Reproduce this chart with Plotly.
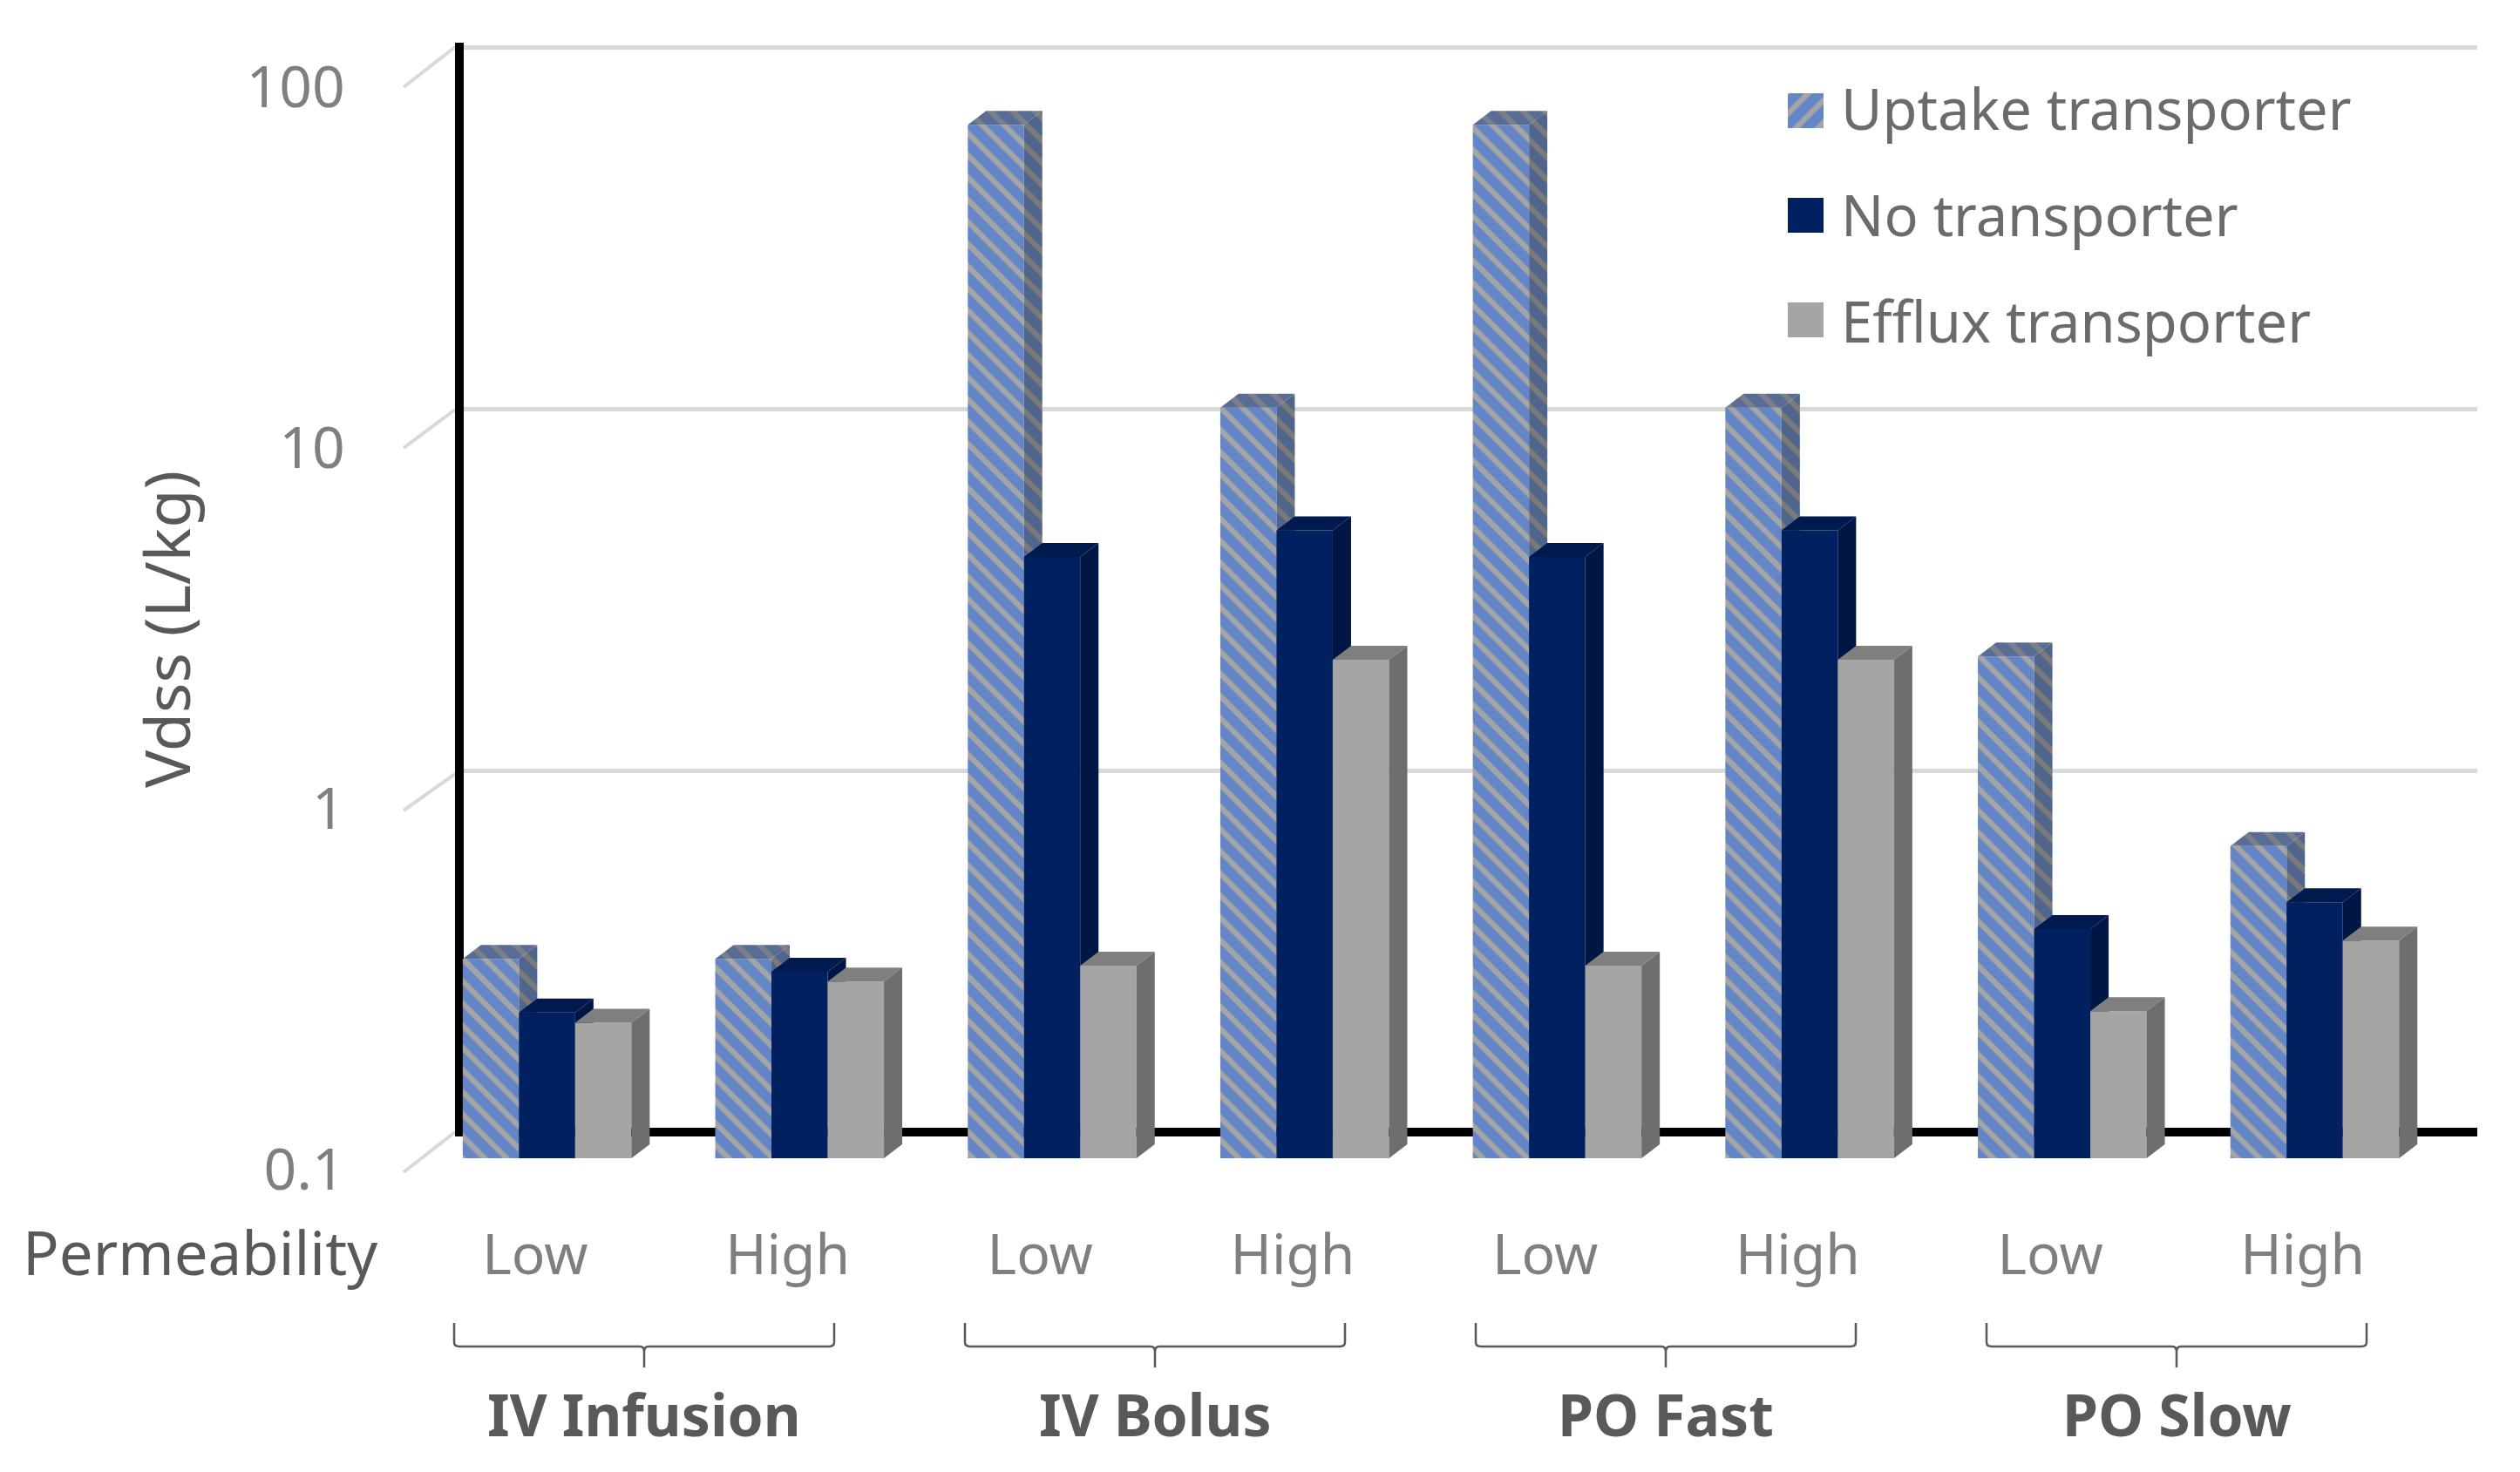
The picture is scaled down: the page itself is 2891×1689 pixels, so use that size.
import plotly.graph_objects as go

# ---------- data ----------
series_names = ["Uptake transporter", "No transporter", "Efflux transporter"]
permeability = ["Low", "High", "Low", "High", "Low", "High", "Low", "High"]
routes = ["IV Infusion", "IV Bolus", "PO Fast", "PO Slow"]
uptake = [0.356, 0.356, 72, 11.9, 72, 11.9, 2.44, 0.73]
no_transporter = [0.253, 0.328, 4.6, 5.45, 4.6, 5.45, 0.43, 0.51]
efflux = [0.237, 0.308, 0.341, 2.39, 0.341, 2.39, 0.255, 0.40]
y_ticks = [0.1, 1, 10, 100]
y_tick_labels = ["0.1", "1", "10", "100"]

# ---------- layout helpers ----------
W, H = 2891, 1689
FONT = "Noto Sans"
fx = lambda p: p / W
fy = lambda p: 1 - p / H

CAT_PX = 289.7
DEC_PX = 415.0
DX = 21 / CAT_PX
DY = 10 ** (16 / DEC_PX)
BAR_W = 64.5 / CAT_PX
offsets = [-83 / CAT_PX, (-83 + 64.5) / CAT_PX, (-83 + 129) / CAT_PX]
xs = list(range(len(permeability)))
Y_FLOOR = 0.1
BLUE = "#2468ea"
PSIZE = 18
PSOLID = 0.65

styles = [
    dict(front=dict(color="#a5a5a5", pattern=dict(shape="\\", fgcolor=BLUE, bgcolor="#a5a5a5", size=PSIZE, solidity=PSOLID)),
         side=("#7a7a7a", "#264f9c"), top=("#7a7f8a", "#3559a0")),
    dict(front=dict(color="#002060"), side=("#001645", None), top=("#001a50", None)),
    dict(front=dict(color="#a5a5a5"), side=("#6e6e6e", None), top=("#7f7f7f", None)),
]
all_values = [uptake, no_transporter, efflux]
yaxes = ["y3", "y4", "y5"]

fig = go.Figure()

fig.add_trace(go.Scatter(x=[0], y=[1], xaxis="x", yaxis="y", mode="markers",
                         marker=dict(opacity=0), hoverinfo="skip", showlegend=False))
fig.add_trace(go.Scatter(x=[0], y=[1], xaxis="x2", yaxis="y2", mode="markers",
                         marker=dict(opacity=0), hoverinfo="skip", showlegend=False))


def face_trace(xpts, ypts, colors, yaxis, name):
    bg, fg = colors
    kw = dict(fillcolor=bg)
    if fg:
        kw["fillpattern"] = dict(shape="\\", fgcolor=fg, bgcolor=bg, size=PSIZE, solidity=PSOLID)
    return go.Scatter(x=xpts, y=ypts, xaxis="x2", yaxis=yaxis, mode="lines", fill="toself",
                      line=dict(width=0), hoverinfo="skip", showlegend=False, name=name, **kw)


for name, vals, st, off, ya in zip(series_names, all_values, styles, offsets, yaxes):
    sx, sy, tx, ty = [], [], [], []
    for i, v in zip(xs, vals):
        L = i + off
        R = L + BAR_W
        sx += [R, R + DX, R + DX, R, R, None]
        sy += [Y_FLOOR, Y_FLOOR * DY, v * DY, v, Y_FLOOR, None]
        tx += [L, L + DX, R + DX, R, L, None]
        ty += [v, v * DY, v * DY, v, v, None]
    fig.add_trace(go.Bar(x=xs, y=vals, xaxis="x2", yaxis=ya, width=BAR_W, offset=off,
                         marker=dict(line=dict(width=0), **st["front"]), name=name, showlegend=False))
    fig.add_trace(face_trace(sx, sy, st["side"], ya, name + " side"))
    fig.add_trace(face_trace(tx, ty, st["top"], ya, name + " top"))

for row, (name, st) in enumerate(zip(series_names, styles)):
    c = 2.5 - row
    kw = dict(fillcolor=st["front"]["color"])
    if "pattern" in st["front"]:
        kw["fillpattern"] = dict(shape="/", fgcolor=BLUE, bgcolor="#a5a5a5", size=PSIZE, solidity=PSOLID)
    fig.add_trace(go.Scatter(x=[0, 1, 1, 0, 0], y=[c - 0.167, c - 0.167, c + 0.167, c + 0.167, c - 0.167],
                             xaxis="x3", yaxis="y6", mode="lines", fill="toself", line=dict(width=0),
                             hoverinfo="skip", showlegend=False, name=name, **kw))

hidden = dict(visible=False, fixedrange=True)
log_hidden = dict(type="log", range=[-1, 2], visible=False, domain=[fy(1329), fy(84)], fixedrange=True)

fig.update_layout(
    width=W, height=H, autosize=False, margin=dict(l=0, r=0, t=0, b=0, autoexpand=False),
    paper_bgcolor="white", plot_bgcolor="rgba(0,0,0,0)", barmode="overlay",
    font=dict(family=FONT, color="#7f7f7f", size=62),
    xaxis=dict(domain=[fx(532), fx(2842)], range=[0, 1], showline=True, linecolor="black", linewidth=10,
               showgrid=False, zeroline=False, showticklabels=False, ticks="", anchor="y", fixedrange=True),
    yaxis=dict(domain=[fy(1294), fy(49)], type="log", range=[-1 + 5 / DEC_PX, 2 + 5 / DEC_PX],
               tickmode="array", tickvals=y_ticks,
               showgrid=True, gridcolor="#d9d9d9", gridwidth=5, showline=True, linecolor="black", linewidth=10,
               zeroline=False, showticklabels=False, ticks="", anchor="x", fixedrange=True),
    xaxis2=dict(domain=[fx(469), fx(469 + 8 * CAT_PX)], range=[-0.5, 7.5], tickmode="array", tickvals=xs,
                ticktext=permeability, showgrid=False, zeroline=False, showline=False, ticks="outside",
                ticklen=55, tickcolor="rgba(0,0,0,0)", anchor="y3", fixedrange=True,
                tickfont=dict(family=FONT, size=64, color="#7f7f7f")),
    yaxis2=dict(domain=[fy(1342), fy(100)], type="log", range=[-1, 2], tickmode="array", tickvals=y_ticks,
                ticktext=y_tick_labels, showgrid=False, zeroline=False, showline=False, ticks="outside",
                ticklen=60, tickcolor="rgba(0,0,0,0)", anchor="free", position=fx(469), fixedrange=True,
                tickfont=dict(family=FONT, size=66, color="#7f7f7f")),
    yaxis3=log_hidden,
    yaxis4=dict(type="log", range=[-1, 2], visible=False, overlaying="y3", fixedrange=True),
    yaxis5=dict(type="log", range=[-1, 2], visible=False, overlaying="y3", fixedrange=True),
    xaxis3=dict(domain=[fx(2051), fx(2092)], range=[0, 1], anchor="y6", **hidden),
    yaxis6=dict(domain=[fy(427), fy(67)], range=[0, 3], anchor="x3", **hidden),
)

wall_y = [1299, 888, 470, 54]
front_y = [1345, 930, 514, 100]
shapes = []
for wy, fr in zip(wall_y, front_y):
    shapes.append(dict(type="line", xref="paper", yref="paper", x0=fx(463), y0=fy(fr), x1=fx(522), y1=fy(wy),
                       line=dict(color="#d9d9d9", width=4), layer="below"))
group_centres = [739, 1325, 1911, 2497]
for c in group_centres:
    l, r = c - 218, c + 218
    t, m, b = 1518, 1545, 1569
    path = (f"M {fx(l)} {fy(t)} L {fx(l)} {fy(m - 5)} Q {fx(l)} {fy(m)} {fx(l + 6)} {fy(m)} "
            f"L {fx(c - 5)} {fy(m)} Q {fx(c)} {fy(m)} {fx(c)} {fy(m + 6)} L {fx(c)} {fy(b)} "
            f"M {fx(c)} {fy(m + 6)} Q {fx(c)} {fy(m)} {fx(c + 5)} {fy(m)} "
            f"L {fx(r - 6)} {fy(m)} Q {fx(r)} {fy(m)} {fx(r)} {fy(m - 5)} L {fx(r)} {fy(t)}")
    shapes.append(dict(type="path", xref="paper", yref="paper", path=path, line=dict(color="#595959", width=2.5)))
fig.update_layout(shapes=shapes)

ann = []
for c, r in zip(group_centres, routes):
    ann.append(dict(x=fx(c), y=fy(1622), xref="paper", yref="paper", text=f"<b>{r}</b>", showarrow=False,
                    xanchor="center", yanchor="middle", font=dict(family=FONT, size=66, color="#595959")))
ann.append(dict(x=fx(24), y=fy(1436), xref="paper", yref="paper", text="Permeability", showarrow=False,
                xanchor="left", yanchor="middle", font=dict(family=FONT, size=69, color="#595959")))
ann.append(dict(x=fx(190), y=fy(722), xref="paper", yref="paper", text="Vdss (L/kg)", showarrow=False, textangle=-90,
                xanchor="center", yanchor="middle", font=dict(family=FONT, size=72, color="#595959")))
for row, name in enumerate(series_names):
    ann.append(dict(x=fx(2110), y=fy(124 + 122 * row), xref="paper", yref="paper", text=name, showarrow=False,
                    xanchor="left", yanchor="middle", font=dict(family=FONT, size=65, color="#6b6b6b")))
fig.update_layout(annotations=ann)

fig.write_html("out.html", config=dict(displayModeBar=False),
               post_script="document.body.style.margin='0';document.documentElement.style.overflow='hidden';")
